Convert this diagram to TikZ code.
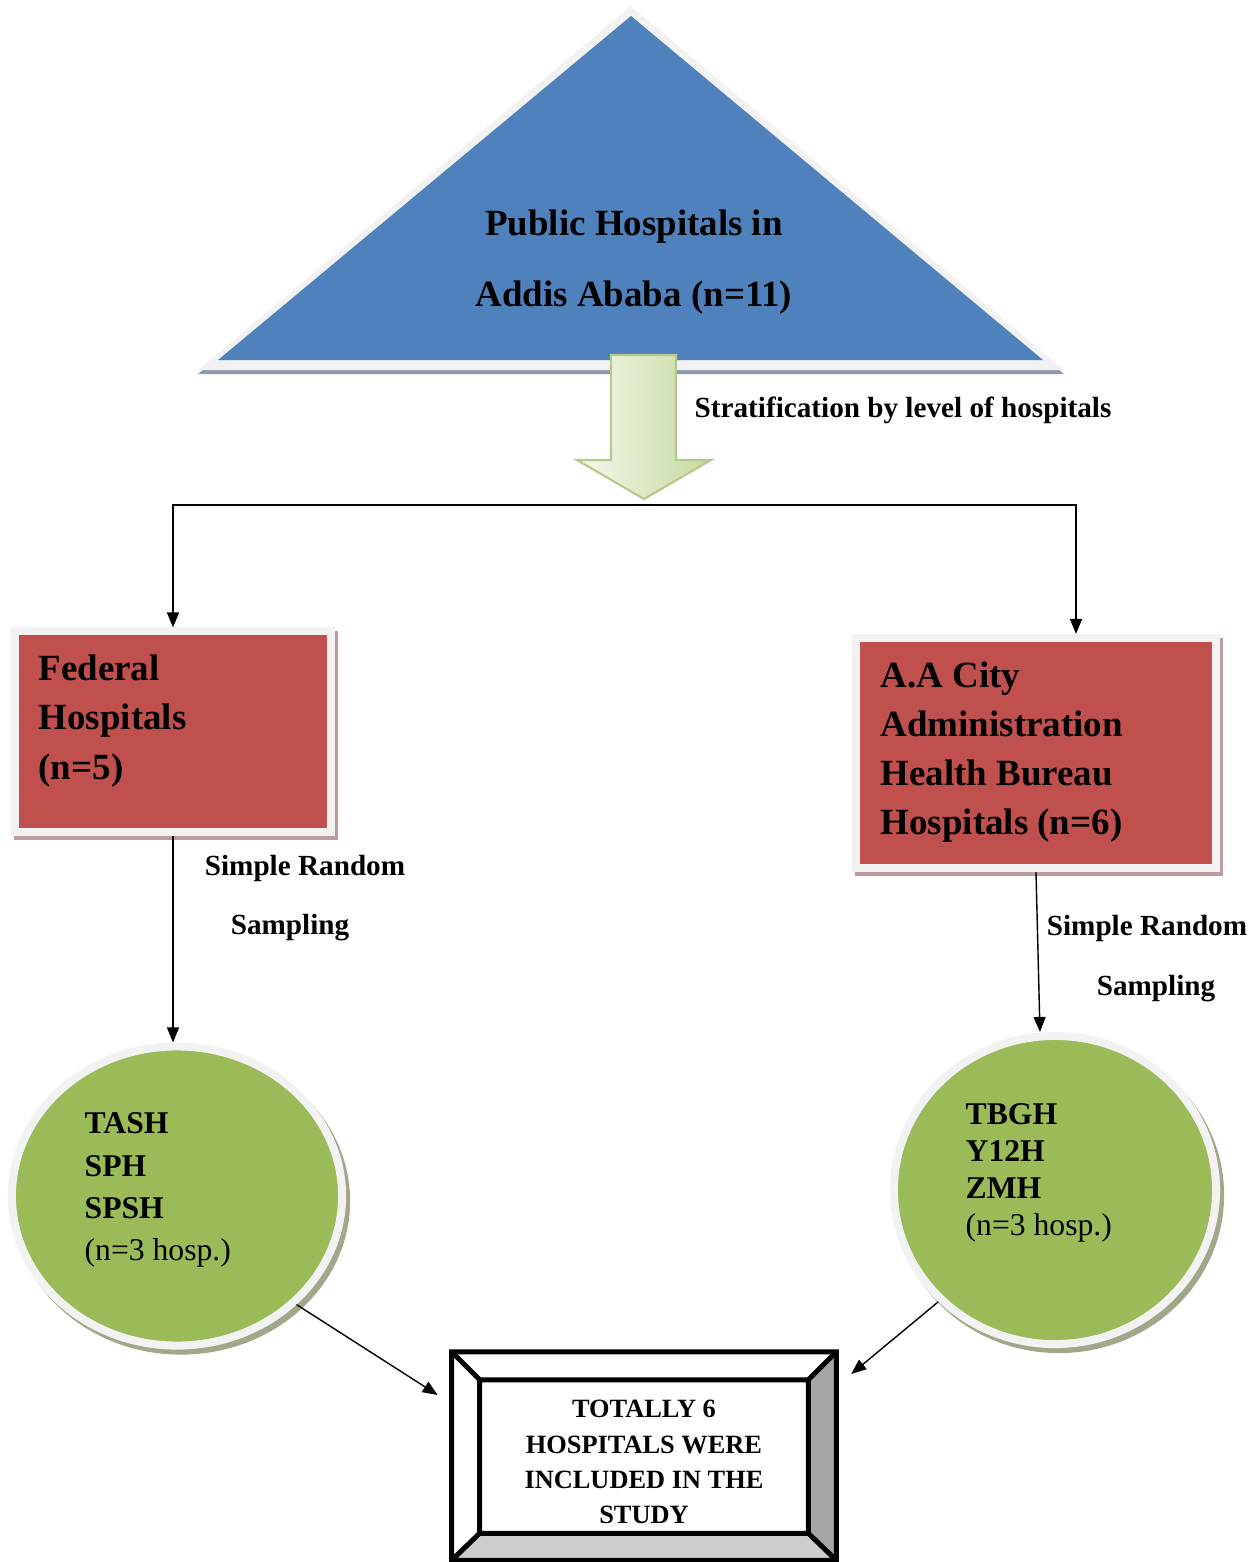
\documentclass[tikz,border=0pt]{standalone}
\usepackage{fontspec}
\setmainfont{Liberation Serif}
\usetikzlibrary{arrows.meta,shapes.geometric,shadows}
\definecolor{triblue}{HTML}{4F81BD}
\definecolor{trishade}{HTML}{8E99AE}
\definecolor{rimgrey}{HTML}{F2F2F2}
\definecolor{boxred}{HTML}{C0504D}
\definecolor{redshade}{HTML}{BF9C9C}
\definecolor{ovgreen}{HTML}{9BBB59}
\definecolor{greenshade}{HTML}{A0A88A}
\definecolor{arrlight}{HTML}{F4F8EC}
\definecolor{arrdark}{HTML}{C6D9A0}
\definecolor{arrrim}{HTML}{B3CA8A}
\definecolor{bevdark}{HTML}{A6A6A6}
\definecolor{bevlight}{HTML}{CDCDCD}
\begin{document}
\begin{tikzpicture}[x=0.01cm,y=-0.01cm,
        conn/.style={draw=black,line width=0.4pt,-{Triangle[width=0.12cm,length=0.15cm]}},
        stratbox/.style={rectangle,fill=boxred,draw=rimgrey,line width=0.08cm,inner sep=0pt,
            drop shadow={shadow xshift=0.03cm,shadow yshift=-0.04cm,fill=redshade,draw=redshade,line width=0.08cm,opacity=1}},
        hospoval/.style={ellipse,fill=ovgreen,draw=rimgrey,line width=0.08cm,inner sep=0pt,
            drop shadow={shadow xshift=0.04cm,shadow yshift=-0.05cm,fill=greenshade,draw=greenshade,line width=0.08cm,opacity=1}},
        toptxt/.style={font=\bfseries\fontsize{10.5}{20}\selectfont,align=center,inner sep=0pt},
        bigtxt/.style={font=\bfseries\fontsize{10.5}{14}\selectfont,align=left,inner sep=0pt},
        smalltxt/.style={font=\bfseries\fontsize{8.3}{10}\selectfont,inner sep=0pt},
        bevline/.style={draw=black,line width=0.05cm,line join=miter}]
    \useasboundingbox (0,0) rectangle (1260,1562);
    \fill[trishade] (631,10) -- (198,374) -- (1064,374) -- cycle;
    \fill[rimgrey] (631,6) -- (198,370) -- (1064,370) -- cycle;
    \fill[triblue] (631,16) -- (218,360) -- (1043,360) -- cycle;
    \node[toptxt] (pub) at (634,262) {Public Hospitals in\\Addis Ababa (n=11)};
    \draw[draw=arrrim,line width=0.6pt,left color=arrlight,right color=arrdark]
        (611,355) -- (676,355) -- (676,460) -- (711,460) -- (644,499)
        -- (577,460) -- (611,460) -- cycle;
    \node[smalltxt,anchor=west] (strat) at (694,410) {Stratification by level of hospitals};
    \coordinate (split) at (644,505);
    \node[stratbox,minimum width=3.15cm,minimum height=2.005cm] (fed) at (173,731.75) {};
    \node[stratbox,minimum width=3.595cm,minimum height=2.3cm] (aa) at (1036,753) {};
    \node[bigtxt,anchor=west] (fedtxt) at (38,721) {Federal\\Hospitals\\(n=5)};
    \node[bigtxt,anchor=west] (aatxt) at (880,752) {A.A City\\Administration\\Health Bureau\\Hospitals (n=6)};
    \draw[conn] (split) -| (fed.north);
    \draw[conn] (split) -| ([xshift=0.4cm]aa.north);
    \node[hospoval,minimum width=3.3cm,minimum height=2.99cm] (tash) at (177,1196) {};
    \node[hospoval,minimum width=3.22cm,minimum height=3.08cm] (tbgh) at (1055,1190) {};
    \node[font=\fontsize{9}{12}\selectfont,align=left,inner sep=0pt,anchor=west] (tashtxt) at (84,1190)
        {\textbf{TASH}\\\textbf{SPH}\\\textbf{SPSH}\\(n=3 hosp.)};
    \node[font=\fontsize{9}{10.5}\selectfont,align=left,inner sep=0pt,anchor=west] (tbghtxt) at (965,1173)
        {\textbf{TBGH}\\\textbf{Y12H}\\\textbf{ZMH}\\(n=3 hosp.)};
    \draw[conn] (fed.south) -- (fed.south |- tash.north);
    \draw[conn] (aa.south) -- ([xshift=-0.15cm]tbgh.north);
    \node[smalltxt] (srsl) at (305,868) {Simple Random};
    \node[smalltxt] (sampl) at (290,928) {Sampling};
    \node[smalltxt] (srsr) at (1147,928) {Simple Random};
    \node[smalltxt] (sampr) at (1156,989) {Sampling};
    \node[minimum width=3.83cm,minimum height=2.07cm,inner sep=0pt] (total) at (644,1456) {};
    \node[minimum width=3.27cm,minimum height=1.52cm,inner sep=0pt] (inbox) at (644,1456.5) {};
    \fill[bevdark] (total.north east) -- (total.south east) -- (inbox.south east) -- (inbox.north east) -- cycle;
    \fill[bevlight] (total.south west) -- (total.south east) -- (inbox.south east) -- (inbox.south west) -- cycle;
    \draw[bevline] (total.north west) rectangle (total.south east)
        (inbox.north west) rectangle (inbox.south east)
        (total.north west) -- (inbox.north west)
        (total.north east) -- (inbox.north east)
        (total.south west) -- (inbox.south west)
        (total.south east) -- (inbox.south east);
    \node[font=\bfseries\fontsize{7.5}{10}\selectfont,align=center,inner sep=0pt] (totaltxt) at (644,1462)
        {TOTALLY 6\\HOSPITALS WERE\\INCLUDED IN THE\\STUDY};
    \draw[conn] (tash.south east) -- ([xshift=-0.14cm,yshift=0.61cm]total.west);
    \draw[conn] (tbgh.south west) -- ([xshift=0.15cm,yshift=0.82cm]total.east);
\end{tikzpicture}
\end{document}
